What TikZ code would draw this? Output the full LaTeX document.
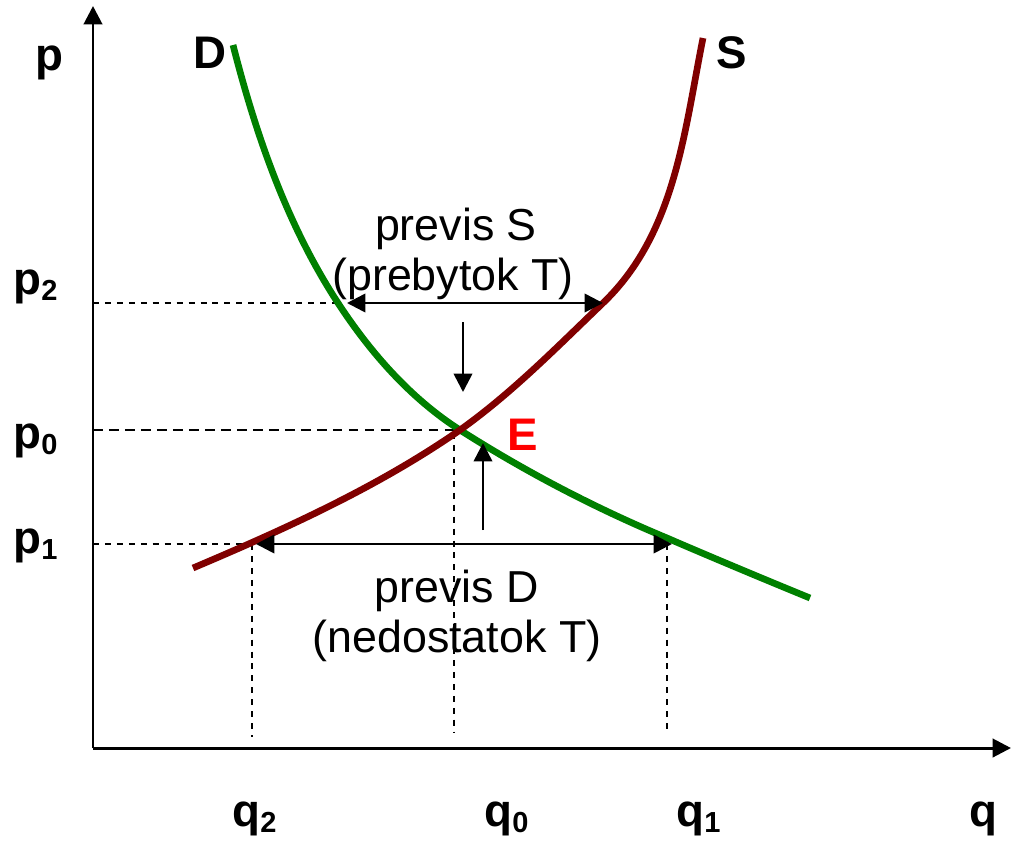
\documentclass[tikz,border=0pt]{standalone}
\usepackage{fontspec}
\setmainfont{Liberation Sans}
\usetikzlibrary{arrows.meta}
\definecolor{demandgreen}{HTML}{008000}
\definecolor{supplyred}{HTML}{800000}
\definecolor{eqred}{HTML}{FF0000}
\newcommand{\sublbl}[2]{\textbf{#1}\raisebox{-3.6pt}{\fontsize{16.5}{16.5}\selectfont\bfseries #2}}

\begin{document}
\begin{tikzpicture}[
		x=0.02cm, y=-0.02cm,
		>={Triangle[length=10.5pt,width=10.5pt]},
		font=\fontsize{25.5}{30}\selectfont,
		guide/.style={line width=0.85pt, dash pattern=on 3.4pt off 3.4pt},
		guidethick/.style={line width=1.4pt, dash pattern=on 5.5pt off 3.6pt},
		shiftarrow/.style={line width=1.5pt},
		curvedemand/.style={demandgreen, line width=3.8pt},
		curvesupply/.style={supplyred, line width=3.8pt},
		axlabel/.style={anchor=base west, inner sep=0pt, font=\fontsize{26}{30}\selectfont}
	]
	\useasboundingbox (0,0) rectangle (1011,843);
	% axes
	\coordinate (origin) at (93,748);
	\coordinate (ptop) at (93,6);
	\coordinate (qend) at (1011,748);
	\draw[->, line width=1.7pt] (origin) -- (ptop);
	\draw[->, line width=1.7pt] (origin) -- (qend);

	% key points
	\coordinate (E) at (460,430);
	\coordinate (Dtop) at (233,45);
	\coordinate (Dend) at (810,598);
	\coordinate (Sbot) at (193,568);
	\coordinate (Stop) at (703,38);
	\coordinate (p2axis) at (93,303);
	\coordinate (p0axis) at (93,430);
	\coordinate (p1axis) at (93,544);
	\coordinate (p2D) at (338,303);
	\coordinate (p2S) at (603,303);
	\coordinate (p1S) at (252,544);
	\coordinate (p1D) at (667,538);
	\coordinate (q2foot) at (252,737);
	\coordinate (q0top) at (454,433);
	\coordinate (q0foot) at (454,733);
	\coordinate (q1top) at (667,544);
	\coordinate (q1foot) at (667,730);

	% guide lines
	\draw[guide] (p2axis) -- (p2D);
	\draw[guidethick] (p0axis) -- (E);
	\draw[guide] (p1axis) -- (p1S);
	\draw[guide] (p1S) -- (q2foot);
	\draw[guide] (q0top) -- (q0foot);
	\draw[guide] (q1top) -- (q1foot);

	% demand and supply
	\draw[curvedemand]
		(Dtop) .. controls (256,135) and (287,225) .. (p2D)
		.. controls (370,352) and (410,398) .. (E)
		.. controls (526,472) and (595,508) .. (p1D)
		.. controls (711,557) and (766,580) .. (Dend);
	\draw[curvesupply]
		(Sbot) .. controls (285,529) and (378,487) .. (E)
		.. controls (512,393) and (557,347) .. (p2S)
		.. controls (675,234) and (684,133) .. (Stop);

	% surplus / shortage arrows
	\coordinate (surL) at (347,303);
	\coordinate (surR) at (603,303);
	\coordinate (shoL) at (256,544);
	\coordinate (shoR) at (672,544);
	\coordinate (downA) at (463,322);
	\coordinate (downB) at (463,392);
	\coordinate (upA) at (483,530);
	\coordinate (upB) at (483,443);
	\draw[<->, shiftarrow] (surL) -- (surR);
	\draw[<->, shiftarrow] (shoL) -- (shoR);
	\draw[->, shiftarrow] (downA) -- (downB);
	\draw[->, shiftarrow] (upA) -- (upB);

	% texts
	\node[anchor=base] (surplus1) at (456,240) {previs S};
	\node[anchor=base] (surplus2) at (453,290) {(prebytok T)};
	\node[anchor=base] (shortage1) at (457,602) {previs D};
	\node[anchor=base] (shortage2) at (457,652) {(nedostatok T)};

	\node[axlabel] (plabel) at (35,70) {\textbf{p}};
	\node[axlabel] (qlabel) at (969,826) {\textbf{q}};
	\node[axlabel] (Dlabel) at (193,68) {\textbf{D}};
	\node[axlabel] (Slabel) at (716,68) {\textbf{S}};
	\node[axlabel, text=eqred] (Elabel) at (507,450) {\textbf{E}};

	\node[axlabel] (p2label) at (13,294) {\sublbl{p}{2}};
	\node[axlabel] (p0label) at (13,448) {\sublbl{p}{0}};
	\node[axlabel] (p1label) at (13,553) {\sublbl{p}{1}};
	\node[axlabel] (q2label) at (232,826) {\sublbl{q}{2}};
	\node[axlabel] (q0label) at (484,826) {\sublbl{q}{0}};
	\node[axlabel] (q1label) at (676,826) {\sublbl{q}{1}};
\end{tikzpicture}
\end{document}
